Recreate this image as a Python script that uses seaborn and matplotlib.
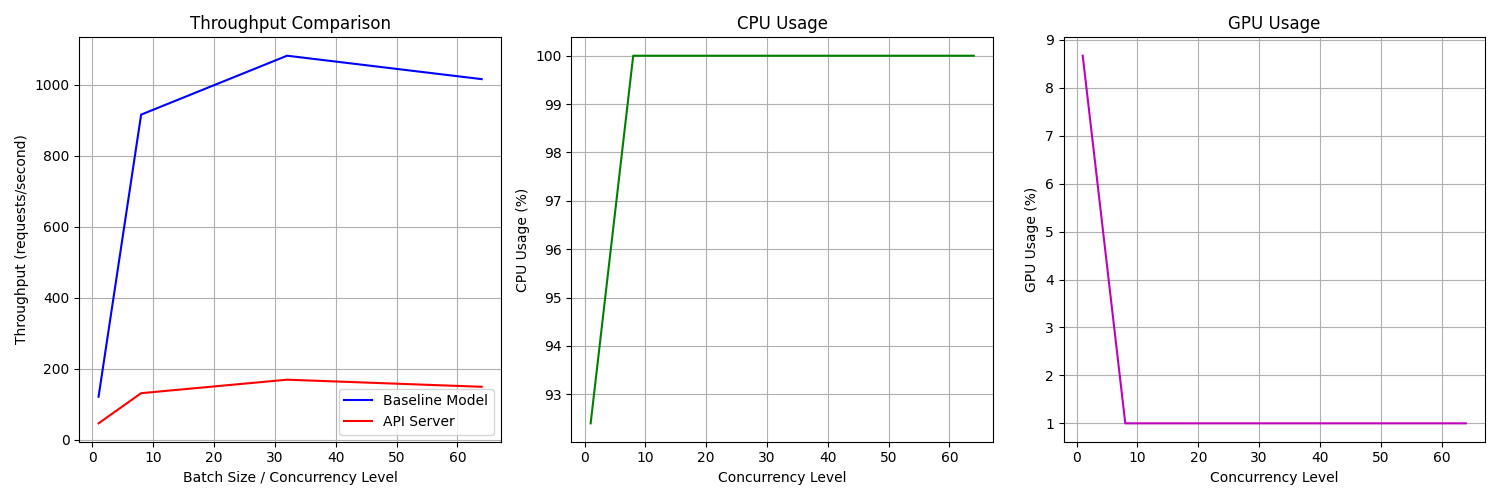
import pandas as pd
import matplotlib
matplotlib.use("Agg")
import matplotlib.pyplot as plt
import seaborn as sns

# valores
batch_sizes = [1, 8, 32, 64]
baseline_throughput = [121, 916, 1082, 1016]
api_throughput = [46, 131, 169, 149]
cpu_usage = [92.4, 100.0, 100.0, 100.0]
gpu_usage = [8.67, 1.0, 1.0, 1.0]

df = pd.DataFrame({
    "x": batch_sizes,
    "baseline": baseline_throughput,
    "api": api_throughput,
    "cpu": cpu_usage,
    "gpu": gpu_usage,
})

fig, axes = plt.subplots(1, 3, figsize=(15, 5), dpi=100)

ax = axes[0]
sns.lineplot(data=df, x="x", y="baseline", color="b", label="Baseline Model", ax=ax)
sns.lineplot(data=df, x="x", y="api", color="r", label="API Server", ax=ax)
ax.set_title("Throughput Comparison")
ax.set_xlabel("Batch Size / Concurrency Level")
ax.set_ylabel("Throughput (requests/second)")
ax.legend(loc="lower right")
ax.grid(True)

ax = axes[1]
sns.lineplot(data=df, x="x", y="cpu", color="g", ax=ax)
ax.set_title("CPU Usage")
ax.set_xlabel("Concurrency Level")
ax.set_ylabel("CPU Usage (%)")
ax.grid(True)

ax = axes[2]
sns.lineplot(data=df, x="x", y="gpu", color="m", ax=ax)
ax.set_title("GPU Usage")
ax.set_xlabel("Concurrency Level")
ax.set_ylabel("GPU Usage (%)")
ax.grid(True)

plt.tight_layout()
plt.savefig("out.png")
